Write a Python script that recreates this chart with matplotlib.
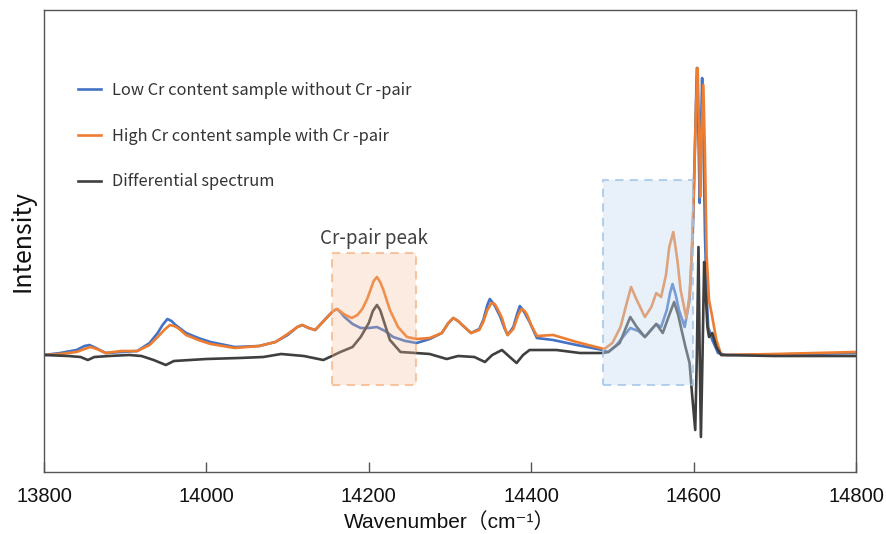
import matplotlib
matplotlib.use("Agg")
import matplotlib.pyplot as plt
from matplotlib.patches import Rectangle

# ---------------- data ----------------
low_wn = [13800, 13820, 13840, 13850, 13856, 13864, 13876, 13895, 13915, 13930, 13940, 13946, 13952,
          13957, 13962, 13975, 13990, 14005, 14035, 14065, 14085, 14100, 14112, 14118, 14126, 14134,
          14149, 14156, 14161, 14166, 14170, 14180, 14190, 14200, 14210, 14220, 14230, 14245, 14259,
          14275, 14290, 14298, 14304, 14310, 14315, 14326, 14336, 14341, 14346, 14349, 14353, 14356,
          14362, 14367, 14371, 14378, 14383, 14386, 14389, 14392, 14398, 14407, 14427, 14456, 14488,
          14495, 14505, 14515, 14522, 14532, 14540, 14554, 14560, 14567, 14571, 14574, 14578, 14582,
          14589, 14595, 14599, 14602, 14604, 14606, 14607.5, 14609, 14610.5, 14612, 14614, 14616,
          14618, 14623, 14628, 14630, 14640, 14700, 14800]
low_int = [0, 2, 5, 9, 10, 7, 2, 3, 4, 12, 22, 30, 36,
           34, 30, 22, 17, 13, 8, 9, 13, 20, 28, 30, 27, 25,
           38, 44, 46, 42, 38, 31, 27, 27, 28, 24, 18, 14, 12,
           16, 22, 32, 37, 34, 30, 22, 26, 35, 50, 56, 52, 48,
           38, 27, 20, 28, 42, 49, 46, 42, 33, 17, 15, 10, 5,
           3, 10, 20, 27, 24, 18, 31, 28, 45, 62, 71, 60, 45,
           28, 55, 122, 220, 287, 220, 152, 220, 277, 220, 120, 60,
           28, 15, 6, 2, 0, 0.5, 2]

high_wn = [13800, 13820, 13840, 13850, 13857, 13865, 13876, 13895, 13915, 13930, 13940, 13948, 13955,
           13960, 13965, 13975, 13990, 14005, 14035, 14065, 14085, 14100, 14112, 14118, 14126, 14134,
           14149, 14156, 14161, 14166, 14171, 14179, 14186, 14192, 14198, 14202, 14206, 14210, 14214,
           14218, 14226, 14236, 14247, 14259, 14275, 14290, 14298, 14304, 14310, 14315, 14326, 14336,
           14341, 14346, 14351, 14355, 14358, 14364, 14368, 14371, 14378, 14384, 14388, 14392, 14395,
           14400, 14407, 14427, 14456, 14480, 14490, 14500, 14510, 14517, 14523, 14530, 14540, 14548,
           14554, 14560, 14566, 14570, 14575, 14580, 14584, 14591, 14595, 14597, 14600, 14603,
           14605, 14607, 14608, 14610, 14612, 14614, 14616, 14619, 14623, 14628, 14634, 14700, 14800]
high_int = [0, 1, 3, 6, 8, 6, 2, 4, 4, 10, 18, 25, 30,
            29, 27, 20, 15, 11, 7, 9, 13, 21, 28, 30, 27, 25,
            38, 44, 46, 43, 40, 37, 40, 46, 56, 65, 74, 78, 73,
            65, 45, 28, 18, 16, 17, 22, 32, 37, 34, 30, 22, 25,
            33, 45, 52, 51, 47, 37, 26, 20, 26, 40, 46, 44, 40,
            30, 19, 20, 13, 8, 6, 12, 28, 50, 68, 55, 38, 48,
            62, 58, 80, 108, 123, 95, 65, 37, 60, 88, 155, 250,
            287, 220, 158, 220, 270, 200, 100, 55, 38, 15, 0, 1, 3]

diff_wn = [13800, 13830, 13845, 13854, 13862, 13880, 13905, 13920, 13935, 13950, 13960, 13980,
           14000, 14040, 14070, 14092, 14120, 14144, 14152, 14165, 14180, 14190, 14200, 14205,
           14210, 14214, 14218, 14226, 14239, 14258, 14275, 14296, 14310, 14330, 14343, 14352,
           14364, 14375, 14382, 14390, 14398, 14431, 14460, 14488, 14495, 14509, 14516, 14522,
           14530, 14540, 14554, 14562, 14570, 14576, 14581, 14586, 14590, 14595, 14598, 14602,
           14604, 14606, 14607.5, 14609, 14611, 14613, 14615, 14617, 14619, 14623, 14628, 14634,
           14700, 14800]
diff_int = [0, -1, -2, -5, -2, -1, 0, -1, -5, -10, -6, -5,
            -4, -3, -2, 1, -1, -5, -2, 3, 8, 18, 32, 44,
            50, 45, 35, 15, 3, 2, 1, -4, -1, -2, -7, 0,
            5, -3, -8, 0, 5, 5, 2, 2, 3, 12, 26, 38,
            28, 18, 31, 22, 40, 53, 40, 22, 8, -8, -38, -75,
            0, 108, 0, -82, 0, 93, 60, 28, 18, 22, 8, 0,
            -1, -1]

labels = ["Low Cr content sample without Cr -pair",
          "High Cr content sample with Cr -pair",
          "Differential spectrum"]
x_ticks = [13800, 14000, 14200, 14400, 14600, 14800]
pair_box_x = [14155, 14258]
pair_box_y = [-30, 102]
blue_box_x = [14488, 14599]
blue_box_y = [-30, 175]
annot_text = "Cr-pair peak"
annot_pos = [14206, 106]

# ---------------- styling ----------------
c_blue = "#4472C4"
c_orange = "#ED7D31"
c_dark = "#3F3F3F"

fig = plt.figure(figsize=(8.87, 5.34), dpi=100)
ax = fig.add_axes([44/887, 1 - 472/534, (856 - 44)/887, (472 - 10)/534])

ax.plot(low_wn, low_int, color=c_blue, lw=1.9, zorder=2, label=labels[0])
ax.plot(high_wn, high_int, color=c_orange, lw=1.9, zorder=2.1, label=labels[1])
ax.plot(diff_wn, diff_int, color=c_dark, lw=1.9, zorder=2.2, label=labels[2])

ax.add_patch(Rectangle((pair_box_x[0], pair_box_y[0]), pair_box_x[1] - pair_box_x[0],
                       pair_box_y[1] - pair_box_y[0],
                       facecolor=(0.97, 0.75, 0.60, 0.30),
                       edgecolor=(0.96, 0.70, 0.52, 0.75),
                       lw=1.5, ls=(0, (4, 3)), zorder=3))
ax.add_patch(Rectangle((blue_box_x[0], blue_box_y[0]), blue_box_x[1] - blue_box_x[0],
                       blue_box_y[1] - blue_box_y[0],
                       facecolor=(0.78, 0.87, 0.95, 0.40),
                       edgecolor=(0.62, 0.76, 0.90, 0.75),
                       lw=1.5, ls=(0, (4, 3)), zorder=3))

ax.text(annot_pos[0], annot_pos[1], annot_text, ha="center", va="bottom",
        fontsize=13.5, color="#404040", family=["Noto Sans CJK SC", "DejaVu Sans"])

ax.set_xlim(13800, 14800)
ax.set_ylim(-117, 345)
ax.set_xticks(x_ticks)
ax.set_xticklabels([str(t) for t in x_ticks],
                   family=["Liberation Sans", "DejaVu Sans"], fontsize=14.5)
ax.set_yticks([])
ax.tick_params(axis="x", direction="in", length=7, width=1, color="#555555", pad=11,
               labelcolor="#111111")
for s in ax.spines.values():
    s.set_color("#555555")
    s.set_linewidth(1.0)

ax.set_xlabel("Wavenumber（cm⁻¹）", fontsize=15, color="#111111", labelpad=4,
              family=["Liberation Sans", "Noto Sans CJK SC", "DejaVu Sans"])
ax.set_ylabel("Intensity", fontsize=18, color="#111111", labelpad=6,
              family=["Noto Sans CJK SC", "DejaVu Sans"])

leg = ax.legend(loc="upper left", bbox_to_anchor=(78/887, 1 - 82/534),
                bbox_transform=fig.transFigure, frameon=False,
                handlelength=1.4, handletextpad=0.7, labelspacing=1.75,
                borderpad=0, borderaxespad=0,
                prop={"family": ["Noto Sans CJK SC", "DejaVu Sans"], "size": 11.8})
for t in leg.get_texts():
    t.set_color("#333333")

fig.savefig("out.png", dpi=100)
